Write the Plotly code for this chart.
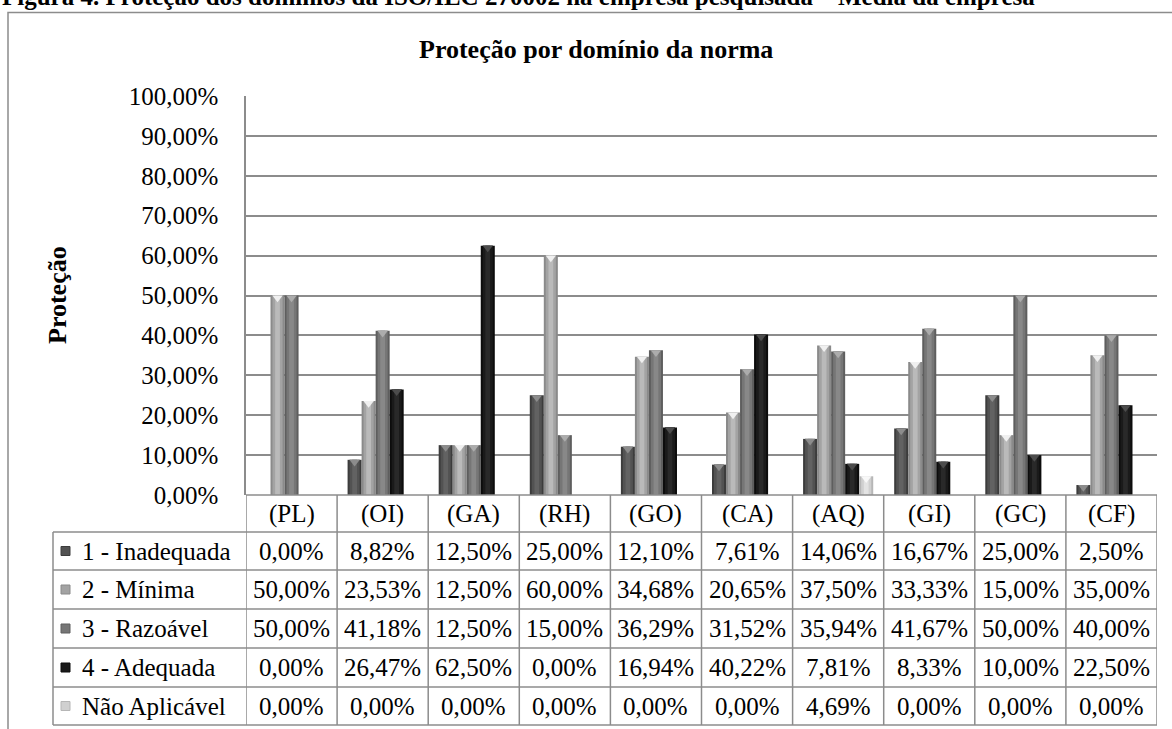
import plotly.graph_objects as go

# ---------------- data ----------------
categories = ["(PL)", "(OI)", "(GA)", "(RH)", "(GO)", "(CA)", "(AQ)", "(GI)", "(GC)", "(CF)"]
series_names = ["1 - Inadequada", "2 - Mínima", "3 - Razoável", "4 - Adequada", "Não Aplicável"]
inadequada = [0.00, 8.82, 12.50, 25.00, 12.10, 7.61, 14.06, 16.67, 25.00, 2.50]
minima = [50.00, 23.53, 12.50, 60.00, 34.68, 20.65, 37.50, 33.33, 15.00, 35.00]
razoavel = [50.00, 41.18, 12.50, 15.00, 36.29, 31.52, 35.94, 41.67, 50.00, 40.00]
adequada = [0.00, 26.47, 62.50, 0.00, 16.94, 40.22, 7.81, 8.33, 10.00, 22.50]
nao_aplicavel = [0.00, 0.00, 0.00, 0.00, 0.00, 0.00, 4.69, 0.00, 0.00, 0.00]
y_ticks = [0, 10, 20, 30, 40, 50, 60, 70, 80, 90, 100]
y_tick_labels = ["0,00%", "10,00%", "20,00%", "30,00%", "40,00%", "50,00%",
                 "60,00%", "70,00%", "80,00%", "90,00%", "100,00%"]
chart_title = "Proteção por domínio da norma"
y_title = "Proteção"
caption = "Figura 4. Proteção dos domínios da ISO/IEC 270002 na empresa pesquisada – Média da empresa"

series_values = [inadequada, minima, razoavel, adequada, nao_aplicavel]

# ---------------- styles ----------------
# (edge, mid, center, cap triangle)
shades = [
    ("#3c3c3c", "#525252", "#626262", "#8c8c8c"),
    ("#8a8a8a", "#a3a3a3", "#bababa", "#f0f0f0"),
    ("#5e5e5e", "#767676", "#888888", "#acacac"),
    ("#0c0c0c", "#1a1a1a", "#292929", "#4c4c4c"),
    ("#b6b6b6", "#d0d0d0", "#e3e3e3", "#f8f8f8"),
]
FONT = "Liberation Serif"
GRID = "#8c8c8c"
W, H = 1172, 729
L, R, T, B = 246, 1157, 96, 495


def px(x):
    return (x - L) / (R - L)


def py(y):
    return (B - y) / (B - T)


def fmt(v):
    return f"{v:.2f}".replace(".", ",") + "%"


n_series = len(series_names)
group_w = 0.77
bar_w = group_w / n_series

fig = go.Figure()
xs = list(range(len(categories)))
for j, (name, vals) in enumerate(zip(series_names, series_values)):
    edge, mid, center, cap = shades[j]
    left = -group_w / 2 + j * bar_w
    for frac, col in ((1.0, edge), (0.72, mid), (0.34, center)):
        fig.add_trace(go.Bar(
            x=xs, y=[v if v > 0 else None for v in vals],
            width=bar_w * frac, offset=left + bar_w * (1 - frac) / 2,
            marker=dict(color=col, line=dict(width=0)),
            name=name, showlegend=False, hoverinfo="skip" if frac < 1 else None,
        ))
    fig.add_trace(go.Scatter(
        x=[i + left + bar_w / 2 for i in xs],
        y=[v - 0.55 if v > 0 else None for v in vals],
        mode="markers",
        marker=dict(symbol="triangle-down", size=9, color=cap, line=dict(width=0)),
        showlegend=False, hoverinfo="skip",
    ))

shapes = []
annotations = []
line = dict(color=GRID, width=1.5)

# table rows
row_edges = [495, 532, 570, 609, 648, 687, 725]
LEG_LEFT = 53
for k, yy in enumerate(row_edges):
    x0 = 0 if k == 0 else px(LEG_LEFT)
    shapes.append(dict(type="line", xref="paper", yref="paper", x0=x0, x1=1,
                       y0=py(yy), y1=py(yy), line=line))
shapes.append(dict(type="line", xref="paper", yref="paper", x0=px(LEG_LEFT), x1=px(LEG_LEFT),
                   y0=py(row_edges[1]), y1=py(row_edges[-1]), line=line))
for k in range(len(categories) + 1):
    shapes.append(dict(type="line", xref="x", yref="paper", x0=k - 0.5, x1=k - 0.5,
                       y0=py(row_edges[0]), y1=py(row_edges[-1]), line=line))

# header labels
hc = (row_edges[0] + row_edges[1]) / 2
for i, c in enumerate(categories):
    annotations.append(dict(x=i, y=py(hc), xref="x", yref="paper", text=c, showarrow=False,
                            font=dict(family=FONT, size=25, color="black"),
                            xanchor="center", yanchor="middle"))
# value rows
for j, (name, vals) in enumerate(zip(series_names, series_values)):
    rc = (row_edges[j + 1] + row_edges[j + 2]) / 2
    for i, v in enumerate(vals):
        annotations.append(dict(x=i, y=py(rc), xref="x", yref="paper", text=fmt(v), showarrow=False,
                                font=dict(family=FONT, size=25, color="black"),
                                xanchor="center", yanchor="middle"))
    annotations.append(dict(x=px(80), y=py(rc), xref="paper", yref="paper", text=name, showarrow=False,
                            font=dict(family=FONT, size=25, color="black"),
                            xanchor="left", yanchor="middle"))
    edge, mid, center, cap = shades[j]
    shapes.append(dict(type="rect", xref="paper", yref="paper", x0=px(61), x1=px(70),
                       y0=py(rc + 4.5), y1=py(rc - 4.5), fillcolor=mid,
                       line=dict(color=edge, width=1)))

# outer frame
shapes.append(dict(type="path", xref="paper", yref="paper",
                   path=f"M {px(8)},{py(760)} L {px(8)},{py(12.5)} L {px(1200)},{py(12.5)}",
                   line=line))

annotations.append(dict(x=px(596), y=py(50), xref="paper", yref="paper",
                        text=f"<b>{chart_title}</b>", showarrow=False,
                        font=dict(family=FONT, size=26, color="black"),
                        xanchor="center", yanchor="middle"))
annotations.append(dict(x=px(57), y=py(295), xref="paper", yref="paper",
                        text=f"<b>{y_title}</b>", showarrow=False, textangle=-90,
                        font=dict(family=FONT, size=26, color="black"),
                        xanchor="center", yanchor="middle"))
annotations.append(dict(x=px(0), y=py(12), xref="paper", yref="paper",
                        text=f"<b>{caption}</b>", showarrow=False,
                        font=dict(family=FONT, size=25, color="black"),
                        xanchor="left", yanchor="bottom"))

fig.update_layout(
    width=W, height=H,
    margin=dict(l=L, r=W - R, t=T, b=H - B, pad=0),
    paper_bgcolor="white", plot_bgcolor="white",
    barmode="overlay", showlegend=False,
    xaxis=dict(range=[-0.5, len(categories) - 0.5], showticklabels=False, showgrid=False,
               zeroline=False, showline=False, fixedrange=True),
    yaxis=dict(range=[0, 100], tickvals=y_ticks, ticktext=y_tick_labels,
               showgrid=True, gridcolor=GRID, gridwidth=1.5, zeroline=False,
               showline=True, linecolor=GRID, linewidth=1.5, ticks="",
               ticklabelstandoff=21,
               tickfont=dict(family=FONT, size=25, color="black"), fixedrange=True),
    shapes=shapes, annotations=annotations,
)

fig.write_html("out.html")
